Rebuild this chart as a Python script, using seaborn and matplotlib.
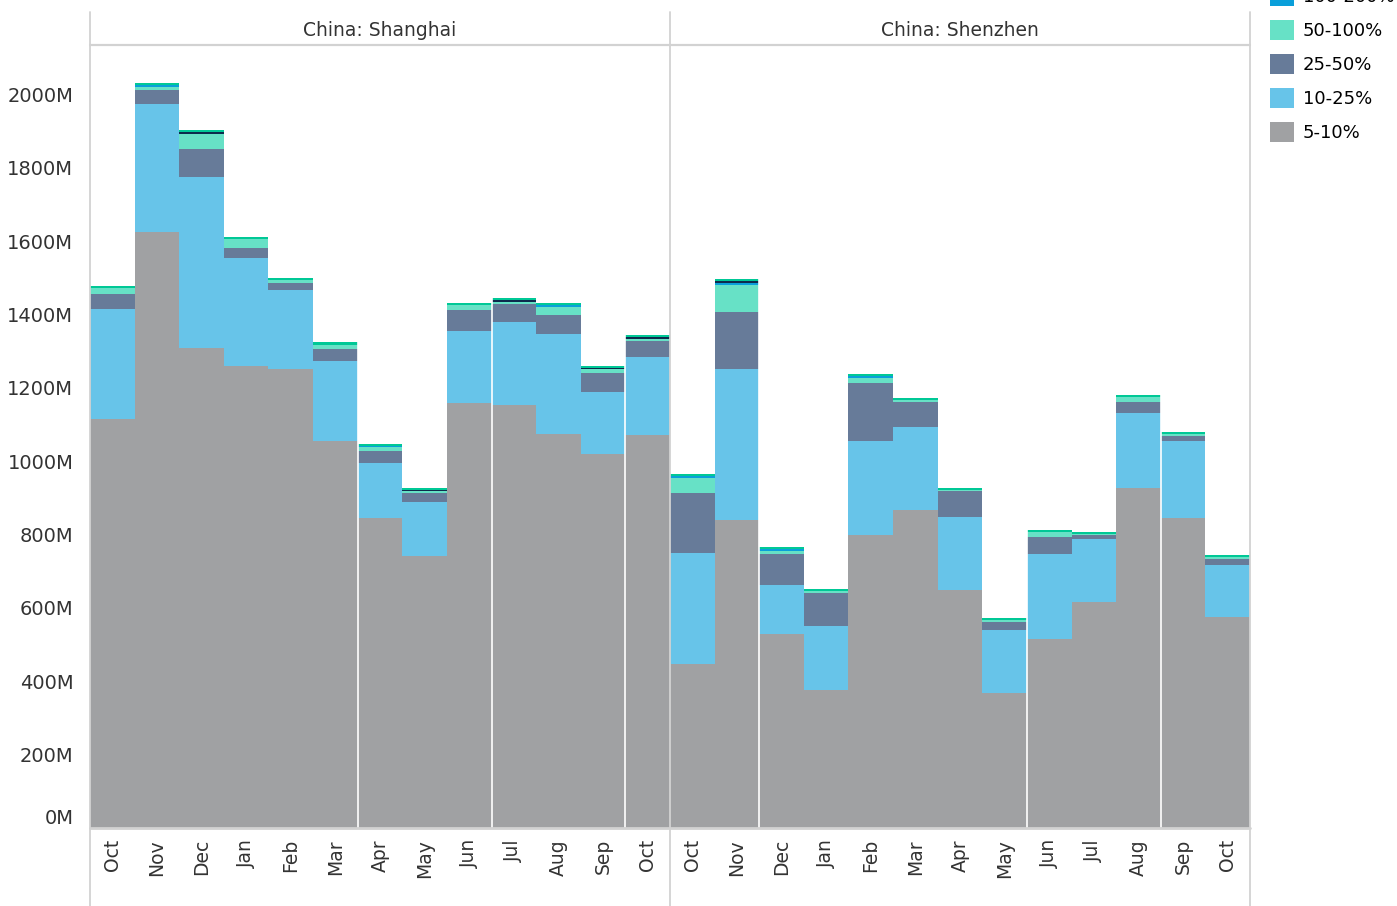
import matplotlib
matplotlib.use('Agg')
import matplotlib.pyplot as plt
from matplotlib.lines import Line2D
from matplotlib.patches import Patch
import numpy as np
import pandas as pd
import seaborn as sns

# months shown on each panel (Oct to Oct)
periods = ['2019-10', '2019-11', '2019-12', '2020-01', '2020-02', '2020-03', '2020-04',
           '2020-05', '2020-06', '2020-07', '2020-08', '2020-09', '2020-10']
month_labels = ['Oct', 'Nov', 'Dec', 'Jan', 'Feb', 'Mar', 'Apr',
                'May', 'Jun', 'Jul', 'Aug', 'Sep', 'Oct']
cities = ['China: Shanghai', 'China: Shenzhen']

# bands, bottom of the stack first
bands = ['5-10%', '10-25%', '25-50%', '50-100%', '100-200%', '200-500%', '500%+']
band_colors = ['#a0a1a3', '#67c4e9', '#677b99', '#67e1c6', '#0a9fda', '#0d2b4d', '#00c896']

# values in millions, per band
shanghai_5_10 = [1115, 1625, 1309, 1260, 1252, 1055, 845, 742, 1159, 1154, 1074, 1020, 1072]
shanghai_10_25 = [300, 349, 466, 294, 215, 219, 150, 147, 196, 226, 273, 169, 212]
shanghai_25_50 = [41, 39, 77, 28, 19, 32, 33, 25, 58, 49, 52, 52, 44]
shanghai_50_100 = [17, 8, 41, 24, 8, 11, 11, 5, 13, 5, 22, 11, 6]
shanghai_100_200 = [0, 4, 0, 0, 0, 0, 3, 0, 0, 0, 5, 0, 0]
shanghai_200_500 = [0, 0, 5, 0, 0, 0, 0, 2, 0, 6, 0, 2, 5]
shanghai_500 = [5, 7, 6, 6, 6, 8, 5, 5, 6, 5, 6, 6, 5]

shenzhen_5_10 = [447, 840, 529, 376, 799, 867, 649, 368, 515, 616, 927, 845, 575]
shenzhen_10_25 = [303, 412, 134, 175, 256, 227, 199, 172, 232, 172, 205, 210, 142]
shenzhen_25_50 = [164, 155, 84, 90, 159, 68, 71, 22, 47, 11, 30, 14, 17]
shenzhen_50_100 = [40, 74, 8, 5, 13, 5, 2, 5, 13, 3, 13, 5, 5]
shenzhen_100_200 = [6, 5, 6, 0, 6, 0, 0, 0, 0, 0, 0, 0, 0]
shenzhen_200_500 = [0, 6, 0, 0, 0, 0, 0, 0, 0, 0, 0, 0, 0]
shenzhen_500 = [5, 5, 5, 6, 5, 6, 5, 6, 6, 5, 6, 6, 5]

# only these legend entries are on the canvas, the rest sit above the top edge
legend_bands = ['100-200%', '50-100%', '25-50%', '10-25%', '5-10%']

# thin white gaps tableau leaves between some bars (index of bar before the gap)
gaps = {'China: Shanghai': [5, 8, 11], 'China: Shenzhen': [1, 7, 10]}

series = {
    'China: Shanghai': [shanghai_5_10, shanghai_10_25, shanghai_25_50, shanghai_50_100,
                        shanghai_100_200, shanghai_200_500, shanghai_500],
    'China: Shenzhen': [shenzhen_5_10, shenzhen_10_25, shenzhen_25_50, shenzhen_50_100,
                        shenzhen_100_200, shenzhen_200_500, shenzhen_500],
}

rows = []
for city in cities:
    for band, values in zip(bands, series[city]):
        for period, v in zip(periods, values):
            rows.append({'city': city, 'period': period, 'band': band, 'value': v})
df = pd.DataFrame(rows)
df['band'] = pd.Categorical(df['band'], categories=bands, ordered=True)
df = df.sort_values(['city', 'period', 'band'])
df['cum'] = df.groupby(['city', 'period'])['value'].cumsum()

sns.set_style('white')
plt.rcParams['font.family'] = ['DejaVu Sans']
text_color = '#333333'
line_color = '#d2d2d2'

W, H = 1397, 906
fig = plt.figure(figsize=(W / 100, H / 100), dpi=100)
axes = fig.subplots(1, 2, sharey=True)
fig.subplots_adjust(left=90 / W, right=1250 / W, bottom=1 - 828 / H, top=1 - 45 / H, wspace=0)

for ax, city in zip(axes, cities):
    sub = df[df['city'] == city]
    # draw cumulative totals from the top band down so they stack
    for band, color in reversed(list(zip(bands, band_colors))):
        layer = sub[sub['band'] == band]
        sns.barplot(data=layer, x='period', y='cum', order=periods, color=color,
                    saturation=1, width=1.0, linewidth=0, errorbar=None, ax=ax)
    for i in gaps[city]:
        ax.axvline(i + 0.5, color='white', lw=1.2, zorder=5)
    ax.set_xlim(-0.5, len(periods) - 0.5)
    ax.set_ylim(0, 2135)
    ax.set_xticks(range(len(periods)))
    ax.set_xticklabels(month_labels, rotation=90, va='top')
    ax.set_xlabel('')
    ax.set_ylabel('')
    ax.tick_params(axis='x', length=0, pad=8, labelsize=13.5, labelcolor=text_color)
    for spine in ax.spines.values():
        spine.set_visible(False)
    ax.grid(False)

yticks = np.arange(0, 2001, 200)
axes[0].set_yticks(yticks)
axes[0].set_yticklabels([f'{int(t)}M' for t in yticks])
axes[0].tick_params(axis='y', length=0, pad=12, labelsize=14, labelcolor=text_color)
axes[0].get_yticklabels()[0].set_va('bottom')
axes[1].tick_params(axis='y', length=0, labelleft=False)

# panel headers
for city, x0, x1 in [(cities[0], 90, 670), (cities[1], 670, 1250)]:
    fig.text((x0 + x1) / 2 / W, 1 - 30 / H, city, ha='center', va='center',
             fontsize=13.5, color=text_color)

# tableau style frame lines
for x in [90, 670, 1250]:
    fig.add_artist(Line2D([x / W, x / W], [0, 1 - 12 / H], color=line_color, lw=1.3))
fig.add_artist(Line2D([90 / W, 1250 / W], [1 - 45 / H, 1 - 45 / H], color=line_color, lw=1.6))
fig.add_artist(Line2D([90 / W, 1250 / W], [1 - 828 / H, 1 - 828 / H], color=line_color, lw=2))

# legend, top entry runs off the top edge like in the original
color_of = dict(zip(bands, band_colors))
handles = [Patch(facecolor=color_of[b], edgecolor='none') for b in legend_bands]
fig.legend(handles, legend_bands, loc='lower left',
           bbox_to_anchor=(1270 / W, 1 - 142 / H), frameon=False, fontsize=13,
           handlelength=1.33, handleheight=1.33, handletextpad=0.5,
           labelspacing=0.77, borderpad=0, borderaxespad=0, labelcolor='black')

fig.savefig('out.png', dpi=100)
